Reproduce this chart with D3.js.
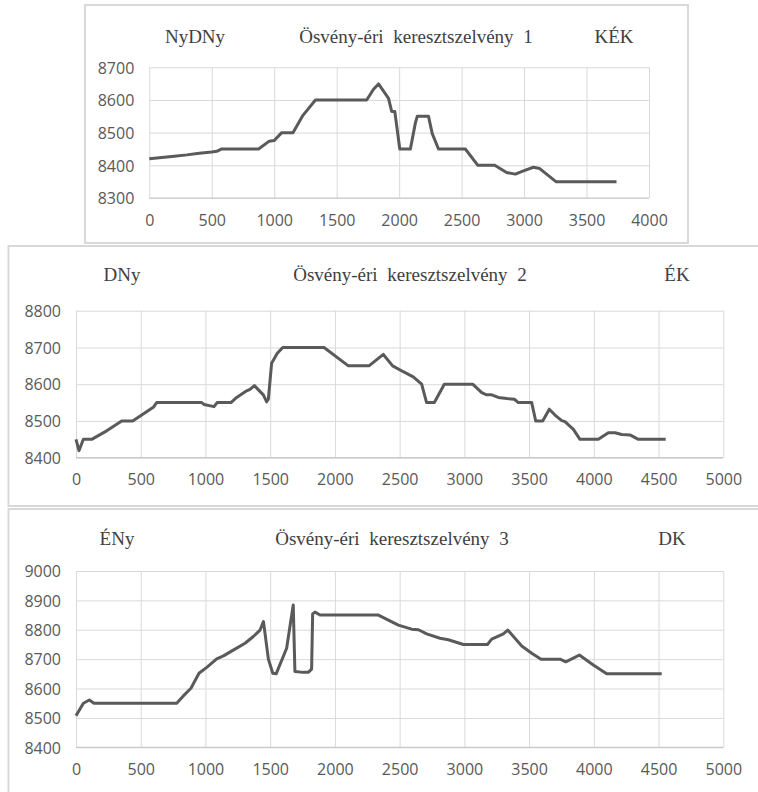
<!DOCTYPE html>
<html>
<head>
<meta charset="utf-8">
<script src="https://cdn.jsdelivr.net/npm/d3@7"></script>
<style>
  html, body { margin: 0; padding: 0; background: #fff; }
  svg { display: block; }
  .tick text { font-family: "Open Sans", sans-serif; font-size: 16px; fill: #595959; }
  .ttl { font-family: "Liberation Serif", "Times New Roman", serif; font-size: 19px; fill: #404040; }
</style>
</head>
<body>
<svg id="chart" width="758" height="792"></svg>
<script>
// ---------- data ----------
const titles = ["Ösvény-éri keresztszelvény 1", "Ösvény-éri keresztszelvény 2", "Ösvény-éri keresztszelvény 3"];
const leftLabels = ["NyDNy", "DNy", "ÉNy"];
const rightLabels = ["KÉK", "ÉK", "DK"];

const xTicks1 = [0, 500, 1000, 1500, 2000, 2500, 3000, 3500, 4000];
const yTicks1 = [8300, 8400, 8500, 8600, 8700];
const xTicks2 = [0, 500, 1000, 1500, 2000, 2500, 3000, 3500, 4000, 4500, 5000];
const yTicks2 = [8400, 8500, 8600, 8700, 8800];
const xTicks3 = [0, 500, 1000, 1500, 2000, 2500, 3000, 3500, 4000, 4500, 5000];
const yTicks3 = [8400, 8500, 8600, 8700, 8800, 8900, 9000];

const profile1 = [[0,8420],[100,8424],[200,8428],[300,8432],[400,8437],[500,8441],[540,8443],[580,8450],[875,8450],[960,8474],[1000,8476],[1060,8500],[1150,8500],[1230,8553],[1330,8600],[1740,8600],[1795,8633],[1835,8649],[1915,8605],[1940,8565],[1965,8565],[2005,8450],[2090,8450],[2130,8530],[2145,8550],[2235,8550],[2265,8497],[2315,8450],[2530,8450],[2630,8400],[2765,8400],[2860,8378],[2930,8373],[2995,8383],[3075,8394],[3125,8390],[3255,8350],[3740,8350]];

const profile2 = [[0,8450],[23,8419],[57,8450],[121,8450],[237,8473],[353,8500],[438,8500],[597,8537],[623,8550],[971,8550],[989,8545],[1066,8539],[1090,8550],[1197,8550],[1241,8564],[1318,8582],[1344,8586],[1378,8596],[1447,8571],[1473,8552],[1486,8560],[1511,8657],[1555,8684],[1597,8700],[1916,8700],[2104,8650],[2263,8650],[2374,8681],[2446,8650],[2528,8634],[2605,8620],[2670,8600],[2708,8550],[2768,8550],[2845,8600],[3064,8600],[3134,8577],[3172,8571],[3211,8571],[3262,8564],[3327,8561],[3386,8559],[3417,8550],[3520,8550],[3551,8500],[3605,8500],[3656,8532],[3700,8516],[3752,8501],[3777,8498],[3842,8477],[3893,8450],[4035,8450],[4112,8468],[4163,8468],[4215,8463],[4279,8462],[4344,8450],[4555,8450]];

const profile3 = [[0,8507],[57,8550],[103,8561],[139,8550],[778,8550],[829,8575],[888,8601],[950,8652],[1010,8672],[1087,8701],[1139,8711],[1228,8734],[1306,8754],[1370,8777],[1422,8799],[1448,8828],[1486,8700],[1520,8652],[1546,8650],[1627,8737],[1678,8884],[1691,8658],[1755,8655],[1794,8655],[1820,8666],[1828,8854],[1846,8860],[1885,8850],[2336,8850],[2490,8816],[2593,8802],[2645,8800],[2709,8786],[2812,8771],[2876,8766],[2992,8750],[3178,8750],[3211,8768],[3301,8786],[3335,8799],[3443,8745],[3520,8720],[3592,8700],[3739,8700],[3783,8691],[3888,8714],[3996,8680],[4099,8650],[4524,8650]];

// ---------- layout ----------
const svg = d3.select("#chart");

const panels = [
  { box: [85, 5, 688, 243], x: [149.3, 649], y: [198, 67.3], xd: [0, 4000], yd: [8300, 8700],
    xt: xTicks1, yt: yTicks1, data: profile1, tY: 43, tx: [195, 416, 614] },
  { box: [8.5, 246, 800, 506], x: [76, 723.3], y: [457.7, 310.7], xd: [0, 5000], yd: [8400, 8800],
    xt: xTicks2, yt: yTicks2, data: profile2, tY: 281, tx: [122, 410, 677] },
  { box: [8.5, 509, 800, 830], x: [76, 723.3], y: [747.3, 571], xd: [0, 5000], yd: [8400, 9000],
    xt: xTicks3, yt: yTicks3, data: profile3, tY: 545, tx: [117, 392, 672] }
];

panels.forEach((p, i) => {
  const g = svg.append("g");
  g.append("rect")
    .attr("x", p.box[0]).attr("y", p.box[1])
    .attr("width", p.box[2] - p.box[0]).attr("height", p.box[3] - p.box[1])
    .attr("fill", "#fff").attr("stroke", "#d9d9d9").attr("stroke-width", 2);

  const x = d3.scaleLinear().domain(p.xd).range(p.x);
  const y = d3.scaleLinear().domain(p.yd).range(p.y);
  const w = p.x[1] - p.x[0], h = p.y[0] - p.y[1];

  // vertical gridlines + x labels
  const xa = g.append("g").attr("transform", `translate(0,${p.y[0]})`)
    .call(d3.axisBottom(x).tickValues(p.xt).tickSize(-h).tickPadding(10).tickFormat(d3.format("d")));
  xa.select(".domain").remove();
  xa.selectAll(".tick line").attr("stroke", "#d9d9d9").attr("stroke-width", 1);
  xa.selectAll(".tick text").attr("dy", "1.1em");

  // horizontal gridlines + y labels
  const ya = g.append("g").attr("transform", `translate(${p.x[0]},0)`)
    .call(d3.axisLeft(y).tickValues(p.yt).tickSize(-w).tickPadding(15).tickFormat(d3.format("d")));
  ya.select(".domain").remove();
  ya.selectAll(".tick line").attr("stroke", "#d9d9d9").attr("stroke-width", 1);
  ya.selectAll(".tick text").attr("dy", "0.36em");

  // bottom axis line
  g.append("line").attr("x1", p.x[0]).attr("x2", p.x[1]).attr("y1", p.y[0]).attr("y2", p.y[0])
    .attr("stroke", "#c9c9c9").attr("stroke-width", 1.2);

  // profile line
  const line = d3.line().x(d => x(d[0])).y(d => y(d[1]));
  g.append("path").datum(p.data).attr("d", line)
    .attr("fill", "none").attr("stroke", "#5a5a5a").attr("stroke-width", 3)
    .attr("stroke-linejoin", "round").attr("stroke-linecap", "butt");

  // titles
  const labels = [leftLabels[i], titles[i], rightLabels[i]];
  labels.forEach((t, k) => {
    g.append("text").attr("class", "ttl").attr("x", p.tx[k]).attr("y", p.tY)
      .attr("text-anchor", "middle").style("word-spacing", k === 1 ? "5px" : "0px").text(t);
  });
});
</script>
</body>
</html>
